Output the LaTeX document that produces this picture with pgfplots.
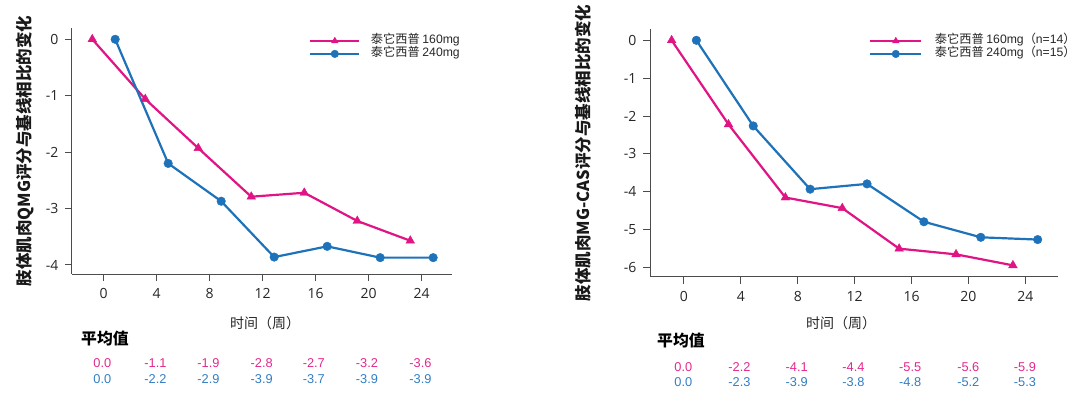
\documentclass[border=0pt]{standalone}
\usepackage{pgfplots}
\pgfplotsset{compat=1.18}
\usepackage{fontspec}
\setmainfont{Noto Sans CJK SC}
\newfontfamily\numfont{Liberation Sans}
\newfontfamily\tickfont{Open Sans}
\definecolor{cpink}{RGB}{224,20,132}
\definecolor{cblue}{RGB}{30,114,186}
\definecolor{npink}{RGB}{228,40,140}
\definecolor{nblue}{RGB}{50,125,195}

\pgfplotsset{
 mystyle/.style={
  scale only axis,
  anchor=south west,
  axis x line=bottom, axis y line=left,
  axis line style={black!70, line width=1pt, -},
  tick style={black!70, line width=1pt},
  tick align=outside,
  major tick length=7pt,
  xtick={0,4,...,24},
  ticklabel style={font=\fontsize{14}{15}\selectfont\tickfont, text=black!85},
  /pgf/number format/assume math mode=true,
  xticklabel style={yshift=-4pt},
  yticklabel style={xshift=-3pt},
  ylabel style={font=\fontsize{16.5}{18}\selectfont\bfseries, anchor=center, text=black!90},
  legend cell align=left,
  legend style={draw=none, fill=none, inner sep=0pt, row sep=0pt, anchor=west,
    nodes={inner sep=0pt, text height=9.3pt, text depth=3.6pt, font=\fontsize{12.2}{13}\selectfont, text=black!85}},
  clip=false,
 },
 pinkline/.style={cpink, line width=2.2pt, mark=triangle*, mark size=5pt, mark options={solid, line width=0.4pt}},
 blueline/.style={cblue, line width=2.2pt, mark=*, mark size=4.3pt, mark options={solid, line width=0.4pt}},
}

\begin{document}
\begin{tikzpicture}
\path[use as bounding box] (0pt,0pt) rectangle (1080pt,-397pt);

% ---------- left panel ----------
\begin{axis}[mystyle,
  at={(72pt,-274pt)}, width=380pt, height=246pt,
  xmin=-2.38, xmax=26.3, ymin=-4.16, ymax=0.2,
  ytick={-4,-3,-2,-1,0},
  ylabel={肢体肌肉QMG评分与基线相比的变化},
  ylabel style={at={(axis description cs:-0.1237,0.5)}},
  legend image code/.code={\draw[mark repeat=2,mark phase=2,#1,mark size=3.8pt] plot coordinates {(0pt,0pt) (24.5pt,0pt) (49pt,0pt)}; \path (59.5pt,0pt);},
  legend style={at={(axis description cs:0.6237,0.921)}},
]
\addplot[pinkline] coordinates {(-0.85,0) (3.15,-1.06) (7.15,-1.93) (11.15,-2.79) (15.15,-2.72) (19.15,-3.22) (23.15,-3.57)};
\addplot[blueline] coordinates {(0.88,0) (4.88,-2.20) (8.88,-2.87) (12.88,-3.86) (16.88,-3.67) (20.88,-3.87) (24.88,-3.87)};
\legend{泰它西普 {\numfont 160mg}, 泰它西普 {\numfont 240mg}}
\end{axis}

% ---------- right panel ----------
\begin{axis}[mystyle,
  at={(650pt,-276.7pt)}, width=408pt, height=247.4pt,
  xmin=-2.39, xmax=26.3, ymin=-6.24, ymax=0.29,
  ytick={-6,-5,-4,-3,-2,-1,0},
  ylabel={肢体肌肉MG-CAS评分与基线相比的变化},
  ylabel style={at={(axis description cs:-0.164,0.5)}},
  legend image code/.code={\draw[mark repeat=2,mark phase=2,#1,mark size=3.8pt] plot coordinates {(0pt,0pt) (25.5pt,0pt) (51pt,0pt)}; \path (63.5pt,0pt);},
  legend style={at={(axis description cs:0.5368,0.9265)}},
]
\addplot[pinkline] coordinates {(-0.87,0) (3.13,-2.22) (7.13,-4.15) (11.13,-4.43) (15.13,-5.50) (19.13,-5.65) (23.13,-5.94)};
\addplot[blueline] coordinates {(0.87,0) (4.87,-2.26) (8.87,-3.93) (12.87,-3.79) (16.87,-4.79) (20.87,-5.20) (24.87,-5.26)};
\legend{泰它西普 {\numfont 160mg}（{\numfont n=14}）, 泰它西普 {\numfont 240mg}（{\numfont n=15}）}
\end{axis}

% ---------- texts below ----------
\node[font=\fontsize{14}{16}\selectfont, text=black!85] at (265pt,-323pt) {时间（周）};
\node[font=\fontsize{14}{16}\selectfont, text=black!85] at (841pt,-323pt) {时间（周）};
\node[font=\fontsize{15.8}{17}\selectfont\bfseries, anchor=west, inner sep=0pt] at (81pt,-339pt) {平均值};
\node[font=\fontsize{15.8}{17}\selectfont\bfseries, anchor=west, inner sep=0pt] at (657pt,-341pt) {平均值};

\foreach \x/\a/\b in {102.3/0.0/0.0, 155.5/-1.1/-2.2, 208.5/-1.9/-2.9, 261.7/-2.8/-3.9, 313.8/-2.7/-3.7, 366.9/-3.2/-3.9, 420.5/-3.6/-3.9}{
  \node[font=\fontsize{12.8}{14}\selectfont\numfont, text=npink] at (\x pt,-363pt) {\a};
  \node[font=\fontsize{12.8}{14}\selectfont\numfont, text=nblue] at (\x pt,-379pt) {\b};
}
\foreach \x/\a/\b in {683.3/0.0/0.0, 739.5/-2.2/-2.3, 796.7/-4.1/-3.9, 853.5/-4.4/-3.8, 910.2/-5.5/-4.8, 968.3/-5.6/-5.2, 1025/-5.9/-5.3}{
  \node[font=\fontsize{12.8}{14}\selectfont\numfont, text=npink] at (\x pt,-366.7pt) {\a};
  \node[font=\fontsize{12.8}{14}\selectfont\numfont, text=nblue] at (\x pt,-382pt) {\b};
}
\end{tikzpicture}
\end{document}
